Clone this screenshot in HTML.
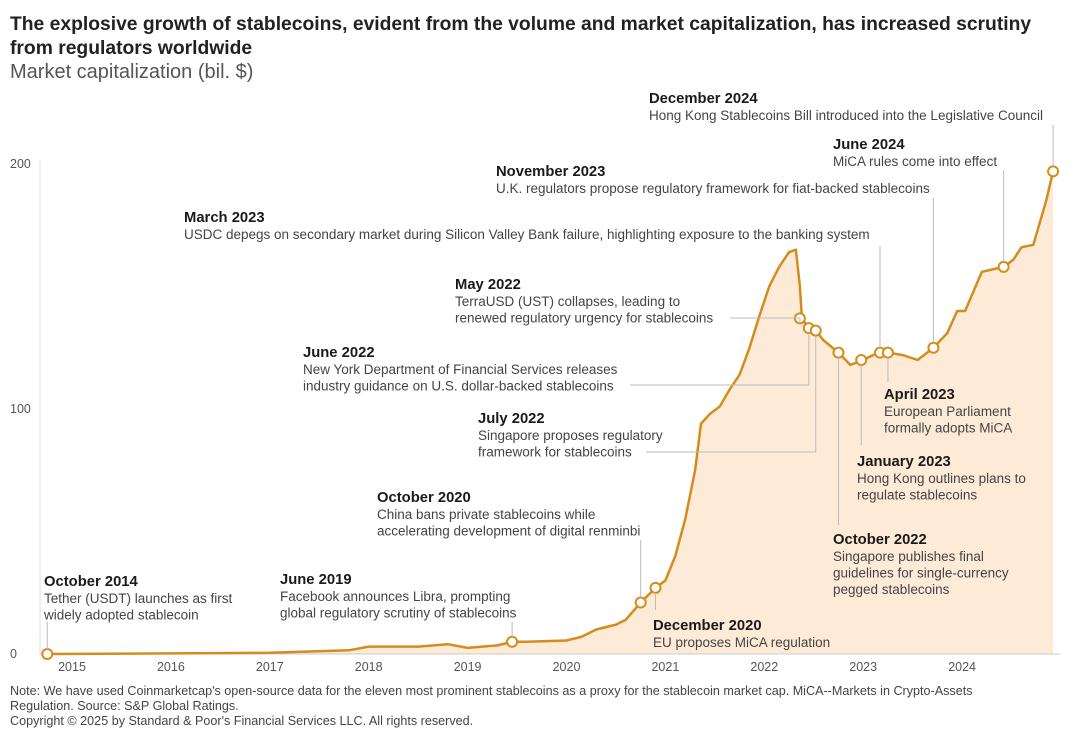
<!DOCTYPE html>
<html><head><meta charset="utf-8">
<style>
body{margin:0;background:#fff;width:1080px;height:730px;overflow:hidden;font-family:"Liberation Sans",sans-serif;}
svg{display:block}
.h{font-weight:bold;font-size:14.8px;fill:#1a1a1a}
.b{font-size:13.5px;fill:#444}
.ld{stroke:#bbb;stroke-width:1;fill:none}
.tk{font-size:12.5px;fill:#555}
</style></head><body>
<svg width="1080" height="730">
<text x="10" y="30" font-size="19.3" font-weight="bold" fill="#222">The explosive growth of stablecoins, evident from the volume and market capitalization, has increased scrutiny</text>
<text x="10" y="54" font-size="19.3" font-weight="bold" fill="#222">from regulators worldwide</text>
<text x="10" y="78" font-size="20" fill="#555">Market capitalization (bil. $)</text>
<g id="plot"></g>
<g id="notes"></g>
<text x="10" y="695" font-size="12.6" fill="#444">Note: We have used Coinmarketcap's open-source data for the eleven most prominent stablecoins as a proxy for the stablecoin market cap. MiCA--Markets in Crypto-Assets</text>
<text x="10" y="710" font-size="12.6" fill="#444">Regulation. Source: S&amp;P Global Ratings.</text>
<text x="10" y="725" font-size="12.6" fill="#444">Copyright © 2025 by Standard &amp; Poor's Financial Services LLC. All rights reserved.</text>
</svg>
<script>
const dates=[2014.75,2017.0,2017.8,2018.0,2018.5,2018.8,2019.0,2019.3,2019.45,2019.6,2020.0,2020.15,2020.3,2020.5,2020.6,2020.75,2020.9,2021.0,2021.1,2021.2,2021.3,2021.36,2021.45,2021.55,2021.65,2021.75,2021.85,2021.95,2022.05,2022.15,2022.25,2022.32,2022.36,2022.38,2022.45,2022.52,2022.6,2022.75,2022.87,2023.0,2023.1,2023.17,2023.25,2023.4,2023.55,2023.71,2023.85,2023.95,2024.03,2024.2,2024.42,2024.52,2024.6,2024.72,2024.85,2024.92];
const values=[0,0.5,1.5,3,3,4,2.5,3.5,5,5,5.5,7,10,12,14,21,27,30,40,55,75,94,98,101,108,114,125,138,150,158,164,165,150,137,133,132,128,123,118,120,122,123,123,122,120,125,131,140,140,156,158,161,166,167,185,197];
const yTicks=[0,100,200];
const xTicks=[2015,2016,2017,2018,2019,2020,2021,2022,2023,2024];
const events=[
 {d:2014.75,v:0,h:"October 2014",t:["Tether (USDT) launches as first","widely adopted stablecoin"],tx:44,ty:586,lead:"up",ly:622},
 {d:2019.45,v:5,h:"June 2019",t:["Facebook announces Libra, prompting","global regulatory scrutiny of stablecoins"],tx:280,ty:584,lead:"up",ly:622},
 {d:2020.75,v:21,h:"October 2020",t:["China bans private stablecoins while","accelerating development of digital renminbi"],tx:377,ty:502,lead:"down",ly:540},
 {d:2020.9,v:27,h:"December 2020",t:["EU proposes MiCA regulation"],tx:653,ty:630,lead:"down",ly:610},
 {d:2022.36,v:137,h:"May 2022",t:["TerraUSD (UST) collapses, leading to","renewed regulatory urgency for stablecoins"],tx:455,ty:289,lead:"h",ly:318,lx:730},
 {d:2022.45,v:133,h:"June 2022",t:["New York Department of Financial Services releases","industry guidance on U.S. dollar-backed stablecoins"],tx:303,ty:357,lead:"h",ly:385,lx:630},
 {d:2022.52,v:132,h:"July 2022",t:["Singapore proposes regulatory","framework for stablecoins"],tx:478,ty:423,lead:"h",ly:452,lx:646},
 {d:2022.75,v:123,h:"October 2022",t:["Singapore publishes final","guidelines for single-currency","pegged stablecoins"],tx:833,ty:544,lead:"down",ly:525},
 {d:2022.98,v:120,h:"January 2023",t:["Hong Kong outlines plans to","regulate stablecoins"],tx:857,ty:466,lead:"down",ly:445},
 {d:2023.17,v:123,h:"March 2023",t:["USDC depegs on secondary market during Silicon Valley Bank failure, highlighting exposure to the banking system"],tx:184,ty:222,lead:"up",ly:246},
 {d:2023.25,v:123,h:"April 2023",t:["European Parliament","formally adopts MiCA"],tx:884,ty:399,lead:"down",ly:382},
 {d:2023.71,v:125,h:"November 2023",t:["U.K. regulators propose regulatory framework for fiat-backed stablecoins"],tx:496,ty:176,lead:"up",ly:198},
 {d:2024.42,v:158,h:"June 2024",t:["MiCA rules come into effect"],tx:833,ty:149,lead:"up",ly:170},
 {d:2024.92,v:197,h:"December 2024",t:["Hong Kong Stablecoins Bill introduced into the Legislative Council"],tx:649,ty:103,lead:"up",ly:125}
];
const NS="http://www.w3.org/2000/svg";
const X=d=>72+(d-2015)*98.9;
const Y=v=>654-v*2.45;
function mk(tag,attrs,parent){const e=document.createElementNS(NS,tag);for(const k in attrs)e.setAttribute(k,attrs[k]);parent.appendChild(e);return e;}
const plot=document.getElementById('plot'),notes=document.getElementById('notes');
let pts=dates.map((d,i)=>X(d).toFixed(1)+","+Y(values[i]).toFixed(1));
const area=mk('path',{d:"M"+X(dates[0])+","+Y(0)+" L"+pts.join(" L")+" L"+X(dates[dates.length-1])+","+Y(0)+"Z",fill:"#fdebd8"},plot);


const ya=mk('line',{x1:40,y1:160,x2:40,y2:654,stroke:"#ddd"},plot);


const xa=mk('line',{x1:40,y1:654,x2:1060,y2:654,stroke:"#ccc"},plot);


yTicks.forEach(v=>{const t=mk('text',{x:10,y:Y(v)+4,class:"tk"},plot);t.textContent=v;

});
xTicks.forEach(v=>{const t=mk('text',{x:X(v),y:671,class:"tk","text-anchor":"middle"},plot);t.textContent=v;

});
events.forEach(e=>{const x=X(e.d),y=Y(e.v);
 let p;
 if(e.lead==="h") p="M"+e.lx+","+e.ly+" L"+x+","+e.ly+" L"+x+","+(y+5);
 else if(e.lead==="up") p="M"+x+","+e.ly+" L"+x+","+(y-5);
 else p="M"+x+","+(y+5)+" L"+x+","+e.ly;
 if(e.lead==="down"&&e.ly<y) p="M"+x+","+(y-5)+" L"+x+","+e.ly;
 const l=mk('path',{d:p,class:"ld"},notes);
 
 
 const h=mk('text',{x:e.tx,y:e.ty,class:"h"},notes);h.textContent=e.h;
 
 
 e.t.forEach((s,i)=>{const b=mk('text',{x:e.tx,y:e.ty+17+i*16.5,class:"b"},notes);b.textContent=s;
 
 });
});
const line=mk('polyline',{points:pts.join(" "),fill:"none",stroke:"#d48d1c","stroke-width":2.5,"stroke-linejoin":"round"},plot);


events.forEach(e=>{const c=mk('circle',{cx:X(e.d),cy:Y(e.v),r:5,fill:"#fff",stroke:"#d48d1c","stroke-width":2},plot);

});
</script>
</body></html>
